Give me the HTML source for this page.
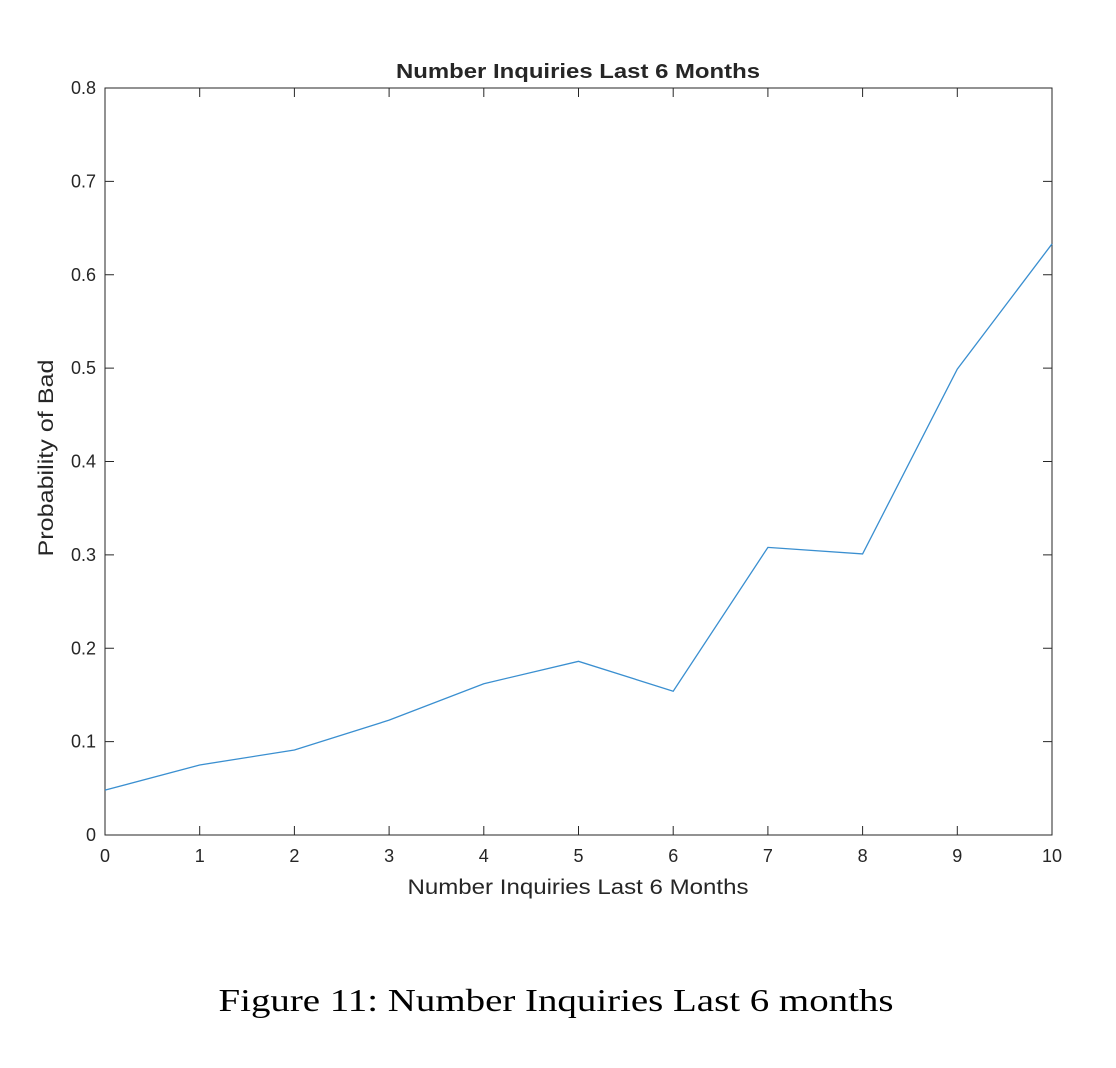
<!DOCTYPE html>
<html><head><meta charset="utf-8"><style>
body{margin:0;background:#fff;width:1116px;height:1068px;overflow:hidden}
svg{display:block}
text{font-family:"Liberation Sans",Arial,sans-serif;fill:#262626}
</style></head><body>
<svg id="chart" width="1116" height="1068">
<text x="578" y="78" text-anchor="middle" font-size="20" font-weight="bold" fill="#000" textLength="364" lengthAdjust="spacingAndGlyphs">Number Inquiries Last 6 Months</text>
<text x="578" y="894" text-anchor="middle" font-size="21" textLength="341" lengthAdjust="spacingAndGlyphs">Number Inquiries Last 6 Months</text>
<text transform="translate(53,458) rotate(-90)" text-anchor="middle" font-size="21" textLength="197" lengthAdjust="spacingAndGlyphs">Probability of Bad</text>
<text x="556" y="1011" text-anchor="middle" font-size="32" textLength="675" lengthAdjust="spacingAndGlyphs" style="font-family:'Liberation Serif',serif;fill:#000">Figure 11: Number Inquiries Last 6 months</text>
<g id="axes"></g>
</svg>
<script>
const categories=[0,1,2,3,4,5,6,7,8,9,10];
const probValues=[0.048,0.075,0.091,0.123,0.162,0.186,0.154,0.308,0.301,0.499,0.633];
const xTickLabels=["0","1","2","3","4","5","6","7","8","9","10"];
const yTickValues=[0,0.1,0.2,0.3,0.4,0.5,0.6,0.7,0.8];
const yTickLabels=["0","0.1","0.2","0.3","0.4","0.5","0.6","0.7","0.8"];
const L=105,R=1052,T=88,B=835;
const xs=v=>L+(v-0)/10*(R-L);
const ys=v=>B-v/0.8*(B-T);
const NS="http://www.w3.org/2000/svg";
const g=document.getElementById('axes');
function mk(t,a){const e=document.createElementNS(NS,t);for(const k in a)e.setAttribute(k,a[k]);g.appendChild(e);return e;}
const box=mk('rect',{x:L,y:T,width:R-L,height:B-T,fill:'none',stroke:'#262626','stroke-width':1});


categories.forEach((c,i)=>{const x=xs(c);
 const t1=mk('line',{x1:x,x2:x,y1:B,y2:B-9,stroke:'#262626'});
 
 
 const t2=mk('line',{x1:x,x2:x,y1:T,y2:T+9,stroke:'#262626'});
 
 
 const tx=mk('text',{x:x,y:B+27,'text-anchor':'middle','font-size':18});tx.textContent=xTickLabels[i];
 
 
});
yTickValues.forEach((v,i)=>{const y=ys(v);
 const t1=mk('line',{x1:L,x2:L+9,y1:y,y2:y,stroke:'#262626'});
 
 
 const t2=mk('line',{x1:R,x2:R-9,y1:y,y2:y,stroke:'#262626'});
 
 
 const tx=mk('text',{x:L-9,y:y+6,'text-anchor':'end','font-size':18});tx.textContent=yTickLabels[i];
 
 
});
const pts=categories.map((c,i)=>xs(c)+','+ys(probValues[i])).join(' ');
const line=mk('polyline',{points:pts,fill:'none',stroke:'#3a8fd0','stroke-width':1.3});


</script>
</body></html>
